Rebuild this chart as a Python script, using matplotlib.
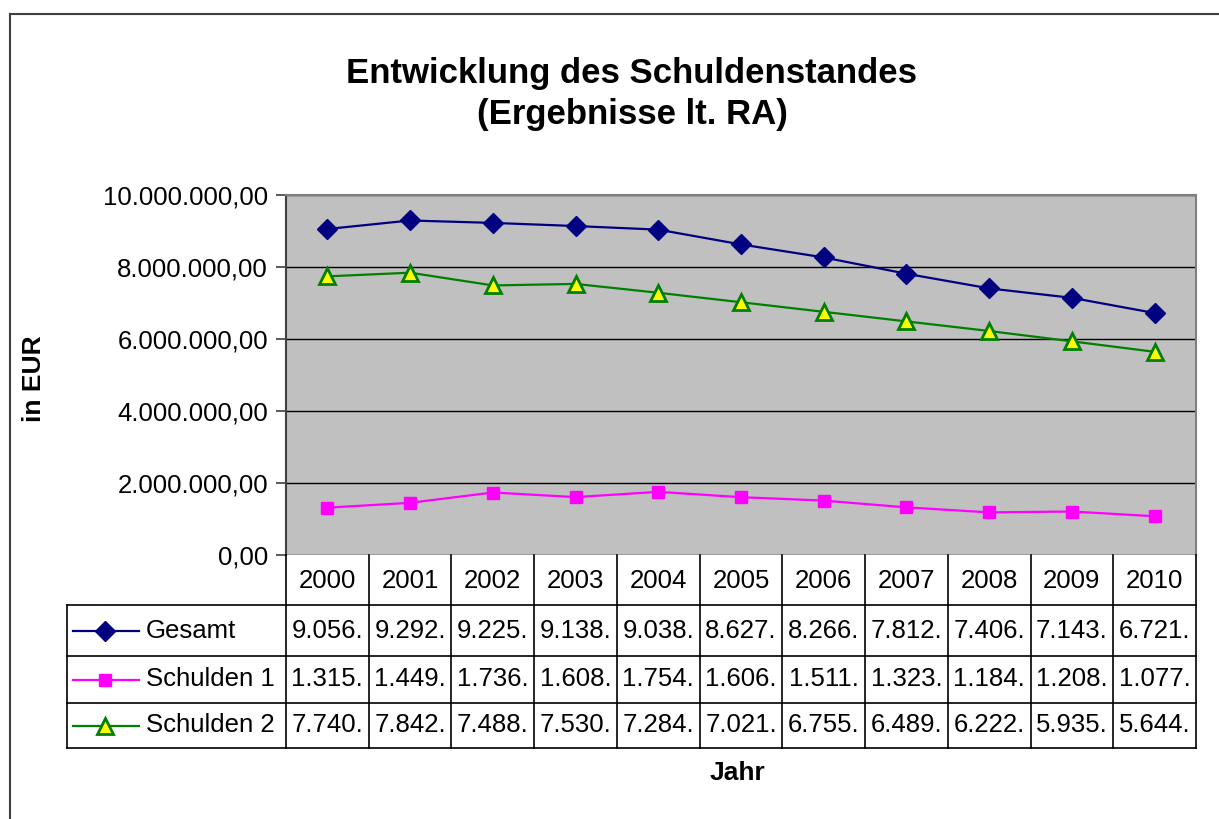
import matplotlib.pyplot as plt
from matplotlib.lines import Line2D
from matplotlib.ticker import FuncFormatter

plt.rcParams['font.family'] = ['Liberation Sans', 'DejaVu Sans']

jahre = ['2000', '2001', '2002', '2003', '2004', '2005',
         '2006', '2007', '2008', '2009', '2010']
gesamt = [9056000, 9292000, 9225000, 9138000, 9038000, 8627000,
          8266000, 7812000, 7406000, 7143000, 6721000]
schulden1 = [1315000, 1449000, 1736000, 1608000, 1754000, 1606000,
             1511000, 1323000, 1184000, 1208000, 1077000]
schulden2 = [7740000, 7842000, 7488000, 7530000, 7284000, 7021000,
             6755000, 6489000, 6222000, 5935000, 5644000]
namen = ['Gesamt', 'Schulden 1', 'Schulden 2']
y_ticks = [0, 2000000, 4000000, 6000000, 8000000, 10000000]


def de_format(v, pos=None):
    s = '{:,.2f}'.format(v)
    return s.replace(',', 'X').replace('.', ',').replace('X', '.')


def kurz(v):
    # Excel shows the cut-off value in the narrow table cells
    return de_format(v)[:6]


def main():
    W, H = 1219, 819
    fig = plt.figure(figsize=(W / 100, H / 100), dpi=100)

    # outer chart frame (top and left edges visible)
    fig.add_artist(Line2D([10 / W, 1.0], [1 - 14 / H, 1 - 14 / H],
                          transform=fig.transFigure, color='#404040', lw=1.5))
    fig.add_artist(Line2D([10 / W, 10 / W], [0, 1 - 14 / H],
                          transform=fig.transFigure, color='#404040', lw=1.5))

    px0, px1, py0, py1 = 286, 1196, 195, 555
    ax = fig.add_axes([px0 / W, 1 - py1 / H, (px1 - px0) / W, (py1 - py0) / H])
    ax.set_facecolor('#C0C0C0')
    x = list(range(len(jahre)))

    styles = [
        dict(color='#000080', marker='D', ms=10, mfc='#000080', mec='#000080'),
        dict(color='#FF00FF', marker='s', ms=8.5, mfc='#FF00FF', mec='#FF00FF'),
        dict(color='#008000', marker='^', ms=11, mfc='#FFFF00', mec='#008000', mew=2),
    ]
    serien = [gesamt, schulden1, schulden2]
    for werte, st in zip(serien, styles):
        ax.plot(x, werte, lw=1.6, zorder=3, **st)

    ax.set_xlim(-0.5, len(jahre) - 0.5)
    ax.set_ylim(0, 10000000)
    ax.set_yticks(y_ticks)
    ax.yaxis.set_major_formatter(FuncFormatter(de_format))
    ax.grid(axis='y', color='black', lw=1, zorder=1)
    ax.set_axisbelow(True)
    ax.set_xticks([])
    ax.tick_params(axis='y', labelsize=18.5, length=7, width=1.2,
                   color='#404040', pad=6)
    for sp in ax.spines.values():
        sp.set_color('#808080')
        sp.set_linewidth(1.5)
    ax.spines['left'].set_color('#404040')
    ax.spines['bottom'].set_visible(False)

    ax.set_ylabel('in EUR', fontsize=19, fontweight='bold', labelpad=0)
    ax.yaxis.set_label_coords((46 - px0) / (px1 - px0), 0.49)

    fig.text(632 / W, 1 - 94 / H,
             'Entwicklung des Schuldenstandes\n(Ergebnisse lt. RA)',
             ha='center', va='center', fontsize=25, fontweight='bold',
             linespacing=1.3)

    # data table below the plot
    tx0, ty1 = 67, 748
    cw = (px1 - px0) / len(jahre)
    lab_w = (px0 - tx0) / cw
    tab = fig.add_axes([tx0 / W, 1 - ty1 / H, (px1 - tx0) / W, (ty1 - py1) / H])
    tab.set_xlim(-0.5 - lab_w, len(jahre) - 0.5)
    kanten = [0, 50, 101, 148, 193]
    tab.set_ylim(kanten[-1], 0)
    tab.axis('off')
    lk = dict(color='black', lw=1.2, clip_on=False)
    for i in range(len(jahre) + 1):
        tab.plot([i - 0.5, i - 0.5], [0, kanten[-1]], **lk)
    tab.plot([-0.5 - lab_w, -0.5 - lab_w], [kanten[1], kanten[-1]], **lk)
    for k in kanten[1:]:
        tab.plot([-0.5 - lab_w, len(jahre) - 0.5], [k, k], **lk)

    for i, j in enumerate(jahre):
        tab.text(i, (kanten[0] + kanten[1]) / 2 + 1, j, ha='center',
                 va='center', fontsize=18.5)
    for r, (werte, name, st) in enumerate(zip(serien, namen, styles)):
        yc = (kanten[r + 1] + kanten[r + 2]) / 2
        for i, v in enumerate(werte):
            tab.text(i, yc, kurz(v), ha='center', va='center', fontsize=18.5)
        x_l = -0.5 - lab_w
        tab.plot([x_l + 6 / cw, x_l + 72 / cw], [yc, yc], color=st['color'],
                 lw=1.6, clip_on=False)
        tab.plot([x_l + 38 / cw], [yc], ls='none', clip_on=False, **st)
        tab.text(x_l + 79 / cw, yc, name, ha='left', va='center', fontsize=18.5)

    fig.text(737 / W, 1 - 773 / H, 'Jahr', ha='center', va='center',
             fontsize=19, fontweight='bold')

    plt.savefig('out.png', dpi=100)


if __name__ == "__main__":
    main()
